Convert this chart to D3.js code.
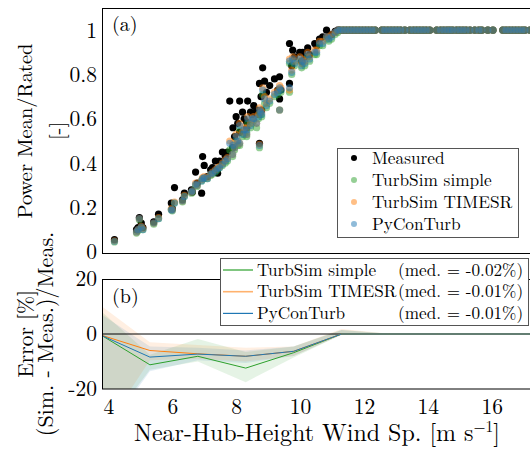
<!DOCTYPE html>
<html>
<head>
<meta charset="utf-8">
<script src="https://cdn.jsdelivr.net/npm/d3@7"></script>
<style>
  body { margin: 0; background: #fff; }
</style>
</head>
<body>
<svg id="chart" width="530" height="450" font-family="Latin Modern Roman, serif"></svg>
<script>
// panel (a): 10-min samples, wind speed [m/s] and power mean / rated [-]
const windSpeed = [4.19, 4.88, 4.93, 4.97, 5.03, 5.08, 5.42, 5.57, 5.97, 6.0, 6.07, 6.32, 6.38, 6.6, 6.63,
  6.73, 6.78, 6.92, 6.95, 7.0, 7.1, 7.2, 7.26, 7.35, 7.42, 7.48, 7.57, 7.66, 7.73, 7.8, 7.89, 7.9, 7.95,
  8.0, 8.05, 8.11, 8.11, 8.2, 8.25, 8.33, 8.33, 8.36, 8.45, 8.5, 8.55, 8.64, 8.7, 8.73, 8.73, 8.78, 8.8,
  8.83, 8.89, 8.95, 9.05, 9.2, 9.3, 9.36, 9.36, 9.4, 9.67, 9.67, 9.74, 9.77, 9.83, 9.99, 10.05, 10.08,
  10.15, 10.24, 10.3, 10.46, 10.52, 10.61, 10.71, 10.83, 10.9, 10.99, 11.1, 11.18,
  11.25, 11.35, 11.45, 11.55, 11.65, 11.75, 11.85, 11.95, 12.05, 12.15, 12.25, 12.35, 12.56, 12.65,
  12.75, 12.85, 12.95, 13.05, 13.15, 13.28, 13.44, 13.55, 13.65, 13.75, 13.85, 13.95, 14.06, 14.28,
  14.4, 14.5, 14.6, 14.69, 14.78, 14.9, 15.0, 15.1, 15.2, 15.32, 15.47, 15.6, 15.69, 15.88, 16.04,
  16.35, 16.45, 16.55, 16.65, 16.75, 16.85, 16.95, 17.04, 17.2];
const measured = [0.055, 0.10, 0.11, 0.155, 0.13, 0.11, 0.135, 0.17, 0.22, 0.195, 0.29, 0.235, 0.265, 0.28, 0.27,
  0.36, 0.31, 0.265, 0.43, 0.39, 0.34, 0.37, 0.38, 0.41, 0.355, 0.41, 0.45, 0.43, 0.45, 0.68, 0.47, 0.56, 0.52,
  0.61, 0.58, 0.54, 0.68, 0.63, 0.60, 0.56, 0.585, 0.68, 0.63, 0.62, 0.66, 0.64, 0.62, 0.49, 0.76, 0.70, 0.64,
  0.83, 0.77, 0.72, 0.75, 0.78, 0.73, 0.79, 0.69, 0.73, 0.94, 0.76, 0.84, 0.91, 0.88, 0.90, 0.86, 0.90,
  0.88, 0.92, 0.89, 0.94, 0.93, 0.96, 0.97, 1.0, 0.975, 0.98, 0.995, 1.0,
  1, 1, 1, 1, 1, 1, 1, 1, 1, 1, 1, 1, 1, 1, 1, 1, 1, 1, 1, 1, 1, 1, 1, 1, 1, 1, 1, 1,
  1, 1, 1, 1, 1, 1, 1, 1, 1, 1, 1, 1, 1, 1, 1, 1, 1, 1, 1, 1, 1, 1, 1, 1];
const tsSimple = [0.045, 0.085, 0.095, 0.145, 0.11, 0.10, 0.125, 0.15, 0.19, 0.185, 0.22, 0.225, 0.25, 0.265, 0.27,
  0.30, 0.295, 0.32, 0.33, 0.33, 0.33, 0.345, 0.35, 0.36, 0.37, 0.38, 0.39, 0.40, 0.41, 0.46, 0.43, 0.47, 0.46,
  0.50, 0.48, 0.48, 0.55, 0.52, 0.53, 0.52, 0.54, 0.58, 0.56, 0.58, 0.59, 0.56, 0.60, 0.47, 0.62, 0.62, 0.61,
  0.71, 0.67, 0.65, 0.67, 0.70, 0.71, 0.73, 0.64, 0.72, 0.85, 0.72, 0.80, 0.86, 0.84, 0.86, 0.83, 0.85,
  0.84, 0.88, 0.86, 0.89, 0.89, 0.93, 0.93, 0.96, 0.95, 0.96, 0.98, 0.99,
  1, 1, 1, 1, 1, 1, 1, 1, 1, 1, 1, 1, 1, 1, 1, 1, 1, 1, 1, 1, 1, 1, 1, 1, 1, 1, 1, 1,
  1, 1, 1, 1, 1, 1, 1, 1, 1, 1, 1, 1, 1, 1, 1, 1, 1, 1, 1, 1, 1, 1, 1, 1];
const tsTimesr = [0.05, 0.09, 0.10, 0.15, 0.115, 0.105, 0.13, 0.155, 0.195, 0.19, 0.225, 0.23, 0.255, 0.27, 0.275,
  0.31, 0.30, 0.325, 0.335, 0.34, 0.335, 0.35, 0.36, 0.37, 0.38, 0.385, 0.40, 0.415, 0.425, 0.50, 0.44, 0.49, 0.47,
  0.53, 0.50, 0.49, 0.58, 0.54, 0.56, 0.53, 0.56, 0.61, 0.58, 0.60, 0.61, 0.58, 0.62, 0.485, 0.65, 0.64, 0.63,
  0.74, 0.70, 0.67, 0.69, 0.72, 0.73, 0.75, 0.64, 0.74, 0.87, 0.73, 0.82, 0.88, 0.86, 0.88, 0.85, 0.87,
  0.86, 0.90, 0.88, 0.91, 0.91, 0.95, 0.95, 0.97, 0.97, 0.98, 0.99, 1.0,
  1, 1, 1, 1, 1, 1, 1, 1, 1, 1, 1, 1, 1, 1, 1, 1, 1, 1, 1, 1, 1, 1, 1, 1, 1, 1, 1, 1,
  1, 1, 1, 1, 1, 1, 1, 1, 1, 1, 1, 1, 1, 1, 1, 1, 1, 1, 1, 1, 1, 1, 1, 1];
const pyConTurb = [0.048, 0.09, 0.10, 0.15, 0.112, 0.10, 0.13, 0.15, 0.19, 0.188, 0.22, 0.23, 0.25, 0.27, 0.275,
  0.305, 0.30, 0.32, 0.33, 0.335, 0.33, 0.35, 0.355, 0.365, 0.375, 0.38, 0.395, 0.41, 0.42, 0.49, 0.44, 0.48, 0.47,
  0.52, 0.50, 0.49, 0.57, 0.53, 0.55, 0.53, 0.55, 0.60, 0.57, 0.60, 0.60, 0.58, 0.61, 0.48, 0.64, 0.63, 0.62,
  0.73, 0.69, 0.66, 0.68, 0.71, 0.72, 0.74, 0.64, 0.73, 0.86, 0.74, 0.81, 0.87, 0.85, 0.87, 0.84, 0.86,
  0.85, 0.89, 0.87, 0.90, 0.90, 0.94, 0.94, 0.97, 0.96, 0.97, 0.99, 1.0,
  1, 1, 1, 1, 1, 1, 1, 1, 1, 1, 1, 1, 1, 1, 1, 1, 1, 1, 1, 1, 1, 1, 1, 1, 1, 1, 1, 1,
  1, 1, 1, 1, 1, 1, 1, 1, 1, 1, 1, 1, 1, 1, 1, 1, 1, 1, 1, 1, 1, 1, 1, 1];

// panel (b): binned error [%], median and spread band
const binCenters = [3.8, 5.3, 6.8, 8.3, 9.8, 11.3, 12.8, 14.3, 15.8, 17.3];
const errSimple = [-0.6, -11.2, -8.1, -12.4, -6.8, 0, 0, 0, 0, 0];
const errTimesr = [-0.5, -6.0, -7.2, -8.1, -6.3, 0, 0, 0, 0, 0];
const errPycon = [-0.6, -8.4, -7.3, -8.1, -6.3, 0, 0, 0, 0, 0];
const loSimple = [-36, -13, -10, -17.5, -8.5, -0.3, 0, 0, 0, 0];
const hiSimple = [8, -7.5, -1.8, -6.5, -4.5, 1.5, 0.1, 0.1, 0.1, 0.1];
const loTimesr = [-36, -9.5, -9, -10, -8, -0.3, 0, 0, 0, 0];
const hiTimesr = [10, -3, -4, -5, -4.5, 1.8, 0.1, 0.1, 0.1, 0.1];
const loPycon = [-38, -13.5, -9.5, -10.5, -8, -0.3, 0, 0, 0, 0];
const hiPycon = [7, -4.5, -5, -6, -4.5, 1.5, 0.1, 0.1, 0.1, 0.1];
const medLabels = ['-0.02%', '-0.01%', '-0.01%'];

const seriesNames = ['TurbSim simple', 'TurbSim TIMESR', 'PyConTurb'];
const colors = ['#2ca02c', '#ff7f0e', '#1f77b4'];

const FONT = 'Latin Modern Roman, serif';
const svg = d3.select('#chart');
const left = 102, right = 530;

const x = d3.scaleLinear().domain([3.8, 17.2]).range([left, right]);
const yTop = d3.scaleLinear().domain([-0.005, 1.1]).range([253, 8]);
const yBot = d3.scaleLinear().domain([-20, 20]).range([389, 279]);

const defs = svg.append('defs');
defs.append('clipPath').attr('id', 'clipTop')
  .append('rect').attr('x', left).attr('y', 8).attr('width', right - left).attr('height', 245);
defs.append('clipPath').attr('id', 'clipBot')
  .append('rect').attr('x', left).attr('y', 279).attr('width', right - left).attr('height', 110);

// ---- panel (a)
const samples = windSpeed.map((w, i) => ({ w: w, m: measured[i], s: [tsSimple[i], tsTimesr[i], pyConTurb[i]] }));

const gTop = svg.append('g').attr('clip-path', 'url(#clipTop)');
gTop.selectAll('circle.meas')
  .data(samples)
  .enter().append('circle')
  .attr('class', 'meas')
  .attr('cx', d => x(d.w))
  .attr('cy', d => yTop(d.m))
  .attr('r', 3.6)
  .attr('fill', '#000');

colors.forEach((c, k) => {
  gTop.selectAll('circle.sim' + k)
    .data(samples)
    .enter().append('circle')
    .attr('class', 'sim' + k)
    .attr('cx', d => x(d.w))
    .attr('cy', d => yTop(d.s[k]))
    .attr('r', 3.6)
    .attr('fill', c)
    .attr('fill-opacity', 0.5);
});

svg.append('rect')
  .attr('x', left + 0.5).attr('y', 8.5)
  .attr('width', right - left + 10).attr('height', 245)
  .attr('fill', 'none').attr('stroke', '#000').attr('stroke-width', 1);

function styleAxis(g) {
  g.select('.domain').remove();
  g.attr('font-family', FONT).attr('font-size', 21.5);
  g.selectAll('text').attr('fill', '#000');
}

svg.append('g')
  .attr('transform', `translate(${left},0)`)
  .call(d3.axisLeft(yTop).tickValues([0, 0.2, 0.4, 0.6, 0.8, 1]).tickSize(0).tickPadding(5).tickFormat(d3.format('~g')))
  .call(styleAxis);

svg.append('text').attr('x', 112).attr('y', 31).attr('font-size', 20).text('(a)');

// legend (a)
const legA = svg.append('g');
legA.append('rect')
  .attr('x', 337.5).attr('y', 148.5).attr('width', 181).attr('height', 89)
  .attr('fill', '#fff').attr('stroke', '#555').attr('stroke-width', 1);
const legAItems = [{ name: 'Measured', color: '#000', op: 1 }]
  .concat(seriesNames.map((n, k) => ({ name: n, color: colors[k], op: 0.5 })));
legAItems.forEach((it, i) => {
  const yy = 158 + i * 22;
  legA.append('circle').attr('cx', 354).attr('cy', yy).attr('r', 3).attr('fill', it.color).attr('fill-opacity', it.op);
  legA.append('text').attr('x', 372).attr('y', yy + 6).attr('font-size', 17.3).text(it.name);
});

// ---- panel (b)
const gBot = svg.append('g').attr('clip-path', 'url(#clipBot)');
const bandLo = [loSimple, loTimesr, loPycon];
const bandHi = [hiSimple, hiTimesr, hiPycon];
const errs = [errSimple, errTimesr, errPycon];

colors.forEach((c, k) => {
  const pts = binCenters.map((b, i) => ({ b: b, lo: bandLo[k][i], hi: bandHi[k][i] }));
  gBot.append('path')
    .datum(pts)
    .attr('fill', c)
    .attr('fill-opacity', 0.12)
    .attr('d', d3.area().x(d => x(d.b)).y0(d => yBot(d.lo)).y1(d => yBot(d.hi)));
});

gBot.append('line')
  .attr('x1', left).attr('x2', right)
  .attr('y1', yBot(0)).attr('y2', yBot(0))
  .attr('stroke', '#000').attr('stroke-width', 1);

colors.forEach((c, k) => {
  const pts = binCenters.map((b, i) => ({ b: b, v: errs[k][i] }));
  gBot.append('path')
    .datum(pts)
    .attr('fill', 'none')
    .attr('stroke', c)
    .attr('stroke-width', 1)
    .attr('d', d3.line().x(d => x(d.b)).y(d => yBot(d.v)));
});

svg.append('rect')
  .attr('x', left + 0.5).attr('y', 279.5)
  .attr('width', right - left + 10).attr('height', 109.5)
  .attr('fill', 'none').attr('stroke', '#000').attr('stroke-width', 1);

svg.append('g')
  .attr('transform', `translate(${left},0)`)
  .call(d3.axisLeft(yBot).tickValues([-20, 0, 20]).tickSize(0).tickPadding(5).tickFormat(d => String(d)))
  .call(styleAxis);

svg.append('g')
  .attr('transform', 'translate(0,389)')
  .call(d3.axisBottom(x).tickValues([4, 6, 8, 10, 12, 14, 16]).tickSize(0).tickPadding(10).tickFormat(d => String(d)))
  .call(styleAxis);

svg.append('text').attr('x', 112).attr('y', 303).attr('font-size', 20).text('(b)');

// legend (b)
const legB = svg.append('g');
legB.append('rect')
  .attr('x', 220.5).attr('y', 258.5).attr('width', 308).attr('height', 67)
  .attr('fill', '#fff').attr('stroke', '#555').attr('stroke-width', 1);
seriesNames.forEach((n, k) => {
  const yy = 270 + k * 21.7;
  legB.append('line').attr('x1', 223).attr('x2', 253).attr('y1', yy).attr('y2', yy)
    .attr('stroke', colors[k]).attr('stroke-width', k === 1 ? 1.6 : 1.2).attr('stroke-opacity', k === 1 ? 0.6 : 1);
  legB.append('text').attr('x', 257).attr('y', yy + 5.5).attr('font-size', 17.2).text(n);
  legB.append('text').attr('x', 398).attr('y', yy + 5.5).attr('font-size', 17.2).text('(med. = ' + medLabels[k] + ')');
});

// axis labels
function vLabel(cx, cy, txt, size) {
  svg.append('text')
    .attr('transform', `translate(${cx},${cy}) rotate(-90)`)
    .attr('text-anchor', 'middle')
    .attr('dy', '0.35em')
    .attr('font-size', size)
    .text(txt);
}
vLabel(25, 131, 'Power Mean/Rated', 20.5);
vLabel(57, 131, '[-]', 20.5);
vLabel(25, 334, 'Error [%]', 21.5);
vLabel(45, 334, '(Sim. - Meas.)/Meas.', 22);

const xl = svg.append('text')
  .attr('x', 317).attr('y', 441)
  .attr('text-anchor', 'middle')
  .attr('font-size', 24);
xl.append('tspan').text('Near-Hub-Height Wind Sp. [m s');
xl.append('tspan').attr('font-size', 15.5).attr('dy', -9).text('\u22121');
xl.append('tspan').attr('dy', 9).text(']');
</script>
</body>
</html>
